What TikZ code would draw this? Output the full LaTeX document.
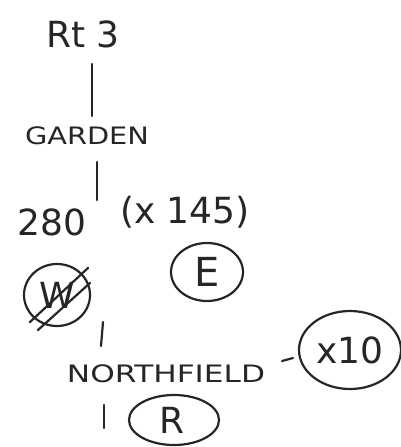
\documentclass[tikz,border=0pt]{standalone}
\usepackage{fontspec}
\setmainfont{DejaVu Sans}
\begin{document}
\begin{tikzpicture}[x=1pt,y=-1pt,
  ink/.style={line width=2.2pt,line cap=round,black!85},
  lbl/.style={inner sep=0pt,font=\fontsize{36}{36}\selectfont,text=black!85}]
\useasboundingbox (0,0) rectangle (401,447);
\node[lbl] (rt) at (83,34) {Rt 3};
\node[lbl,font=\fontsize{24}{24}\selectfont,xscale=1.2] (garden) at (87,136) {GARDEN};
\node[lbl] (n280) at (52,222) {280};
\node[lbl] (x145) at (185,212) {(x 145)};
\node[lbl,font=\fontsize{24}{24}\selectfont,xscale=1.3] (north) at (166,374) {NORTHFIELD};
% circled letters
\draw[ink] (207,272) ellipse [x radius=36, y radius=29];
\node[lbl,font=\fontsize{40}{40}\selectfont] (E) at (207,272) {E};
\draw[ink] (57,295) ellipse [x radius=33, y radius=31];
\node[lbl] (W) at (57,295) {W};
\draw[ink] (30,322) -- (88,268);
\draw[ink] (38,330) -- (90,283);
\draw[ink] (350,350) ellipse [x radius=51, y radius=39];
\node[lbl] (x10) at (350,350) {x10};
\draw[ink] (174,420) ellipse [x radius=45, y radius=25];
\node[lbl] (R) at (172,420) {R};
% connectors
\coordinate (a1) at (92,64); \coordinate (a2) at (92,116);
\draw[ink] (a1) -- (a2);
\coordinate (b1) at (97,162); \coordinate (b2) at (97,200);
\draw[ink] (b1) -- (b2);
\coordinate (c1) at (103,322); \coordinate (c2) at (101,346);
\draw[ink] (c1) -- (c2);
\coordinate (d1) at (282,361); \coordinate (d2) at (293,358);
\draw[ink] (d1) -- (d2);
\coordinate (e1) at (104,405); \coordinate (e2) at (104,428);
\draw[ink] (e1) -- (e2);
\end{tikzpicture}
\end{document}
